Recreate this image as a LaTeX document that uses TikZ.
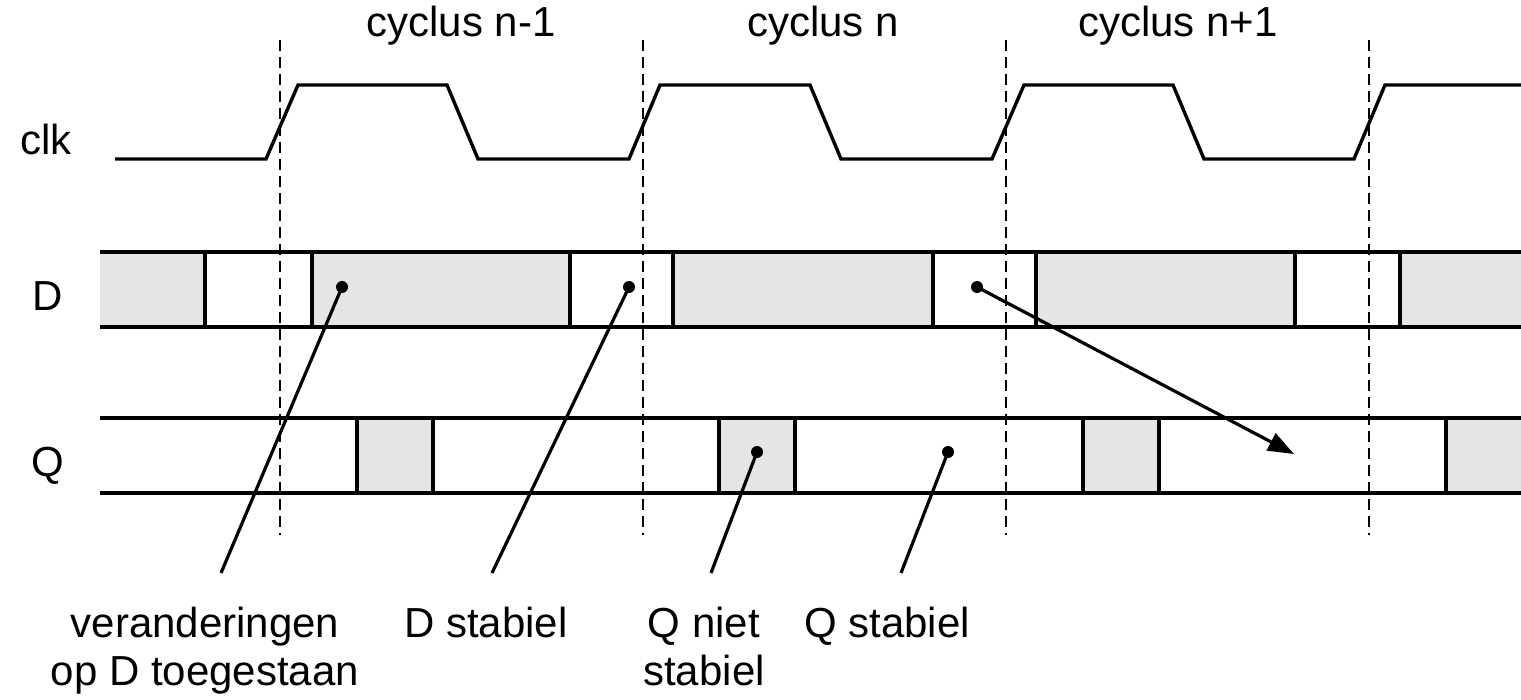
\documentclass[tikz,border=0pt]{standalone}
\usepackage{fontspec}
\setmainfont{Liberation Sans}
\usetikzlibrary{arrows.meta}
\begin{document}
\begin{tikzpicture}[x=1pt,y=-1pt,
  wave/.style={line width=3.4pt, line join=miter},
  busline/.style={line width=3.4pt},
  cycline/.style={line width=2.5pt, dash pattern=on 11pt off 6pt},
  txt/.style={font=\fontsize{42}{48}\selectfont, inner sep=0pt, anchor=base, align=center},
  ptr/.style={line width=3.2pt},
  pdot/.style={circle, fill=black, inner sep=0pt, minimum size=12pt},
  hold/.style={fill=black!10}]
\useasboundingbox (0,0) rectangle (1521,700);
% signal names and cycle labels
\node[txt] (lclk) at (46,155) {clk};
\node[txt] (lD) at (48,311) {D};
\node[txt] (lQ) at (48,476) {Q};
\node[txt] (c1) at (461,37) {cyclus n-1};
\node[txt] (c2) at (823,37) {cyclus n};
\node[txt] (c3) at (1178,37) {cyclus n+1};
% bus fills
\foreach \a/\b in {100/205, 312/570, 673/933, 1036/1295, 1400/1521}
  \fill[hold] (\a,252) rectangle (\b,327);
\foreach \a/\b in {357/433, 719/795, 1083/1159, 1446/1521}
  \fill[hold] (\a,418) rectangle (\b,493);
% bus outlines
\draw[busline] (100,252) -- (1521,252) (100,327) -- (1521,327);
\foreach \x in {205,312,570,673,933,1036,1295,1400}
  \draw[busline] (\x,252) -- (\x,327);
\draw[busline] (100,418) -- (1521,418) (100,493) -- (1521,493);
\foreach \x in {357,433,719,795,1083,1159,1446}
  \draw[busline] (\x,418) -- (\x,493);
% cycle boundaries
\foreach \x in {280,643,1006,1369}
  \draw[cycline] (\x,40) -- (\x,535);
% clock
\draw[wave] (115,159) -- (266,159) -- (298,85) -- (447,85) -- (478,159) -- (629,159)
  -- (660,85) -- (810,85) -- (841,159) -- (992,159) -- (1024,85) -- (1173,85)
  -- (1204,159) -- (1354,159) -- (1385,85) -- (1521,85);
% pointer dots
\node[pdot] (d1) at (342,287) {};
\node[pdot] (d2) at (629,287) {};
\node[pdot] (d3) at (757,452) {};
\node[pdot] (d4) at (948,452) {};
\node[pdot] (d5) at (977,287) {};
\coordinate (tip) at (1294,454);
\coordinate (e1) at (221,573);
\coordinate (e2) at (492,573);
\coordinate (e3) at (711,573);
\coordinate (e4) at (901,573);
\draw[ptr] (e1) -- (d1.center);
\draw[ptr] (e2) -- (d2.center);
\draw[ptr] (e3) -- (d3.center);
\draw[ptr] (e4) -- (d4.center);
\draw[ptr, -{Triangle[length=26pt,width=19pt]}] (d5.center) -- (tip);
% bottom labels (base = last line)
\node[txt] (t1) at (205,685) {veranderingen\\op D toegestaan};
\node[txt] (t2) at (486,637) {D stabiel};
\node[txt] (t3) at (704,685) {Q niet\\stabiel};
\node[txt] (t4) at (887,637) {Q stabiel};
\end{tikzpicture}
\end{document}
